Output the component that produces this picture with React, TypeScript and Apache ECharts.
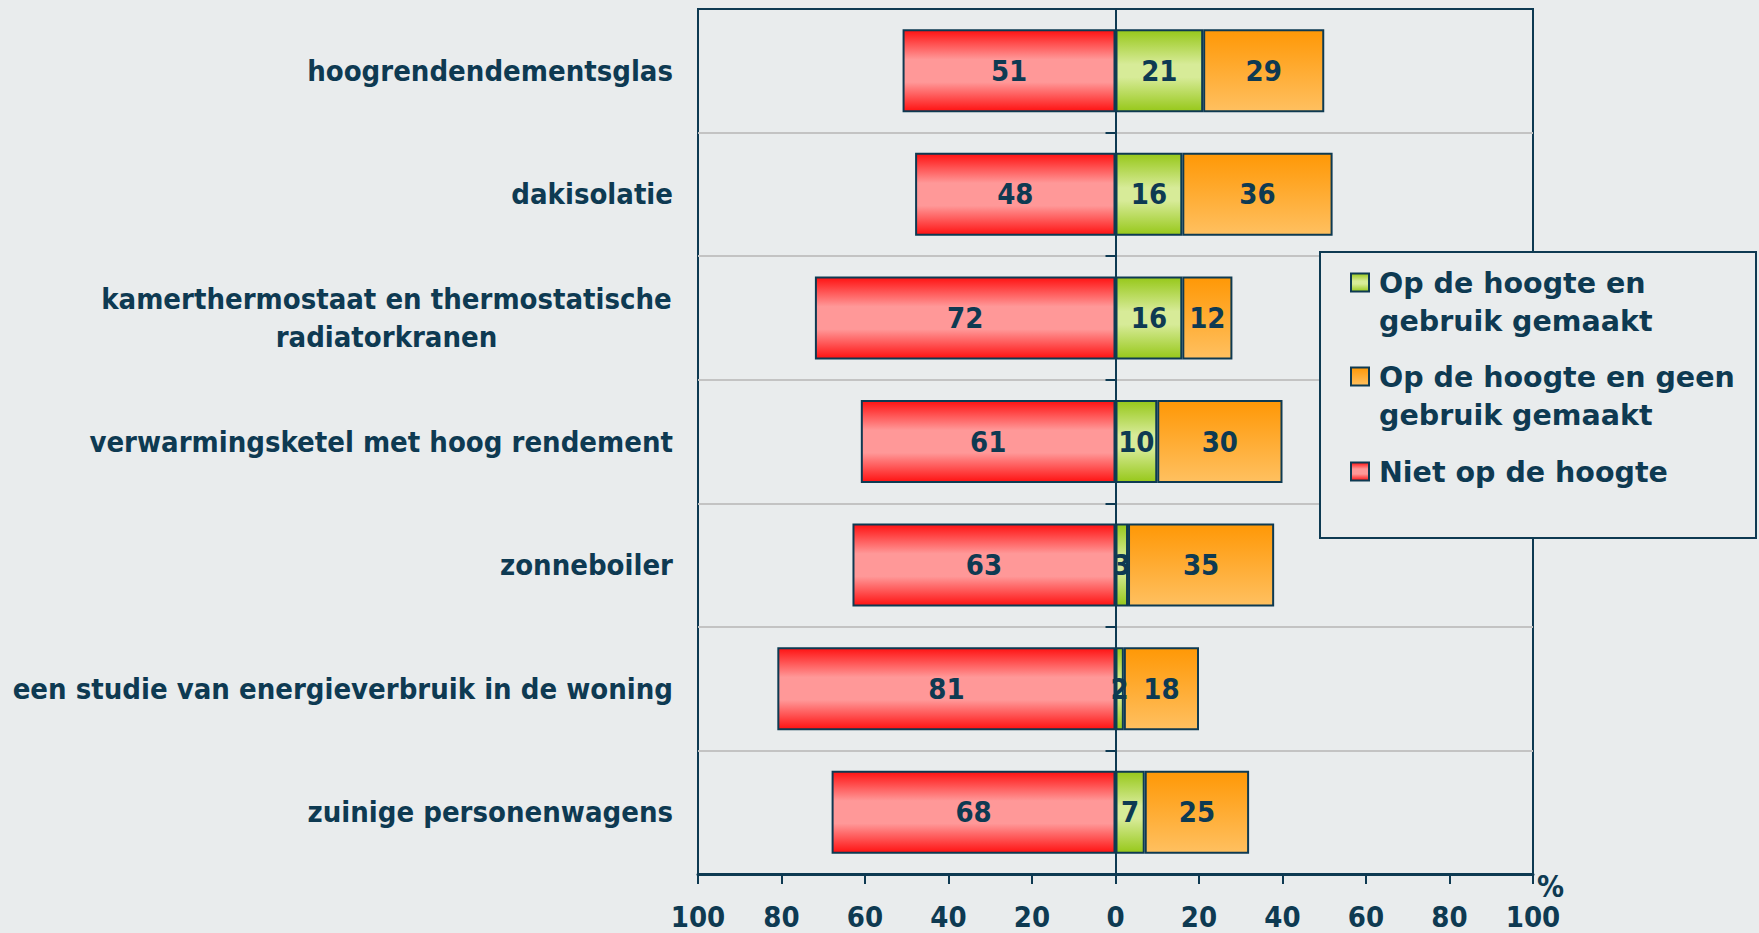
import React, { useEffect, useRef } from "react";
import * as echarts from "echarts";

// Survey categories (top to bottom)
const categories = [
  "hoogrendendementsglas",
  "dakisolatie",
  "kamerthermostaat en thermostatische\nradiatorkranen",
  "verwarmingsketel met hoog rendement",
  "zonneboiler",
  "een studie van energieverbruik in de woning",
  "zuinige personenwagens",
];

const seriesNames = [
  "Op de hoogte en\ngebruik gemaakt",
  "Op de hoogte en geen\ngebruik gemaakt",
  "Niet op de hoogte",
];

// Percentages per category
const usedValues = [21, 16, 16, 10, 3, 2, 7];
const notUsedValues = [29, 36, 12, 30, 35, 18, 25];
const unawareValues = [51, 48, 72, 61, 63, 81, 68];

const axisMin = -100;
const axisMax = 100;
const axisStep = 20;
const unitLabel = "%";

const NAVY = "#0e3a52";
const BG = "#e9eced";
const CONDENSED = '"DejaVu Sans Condensed", "DejaVu Sans", sans-serif';
const WIDE = '"DejaVu Sans", sans-serif';

const greenFill = () =>
  new echarts.graphic.LinearGradient(0, 0, 0, 1, [
    { offset: 0, color: "#97c81a" },
    { offset: 0.42, color: "#d7eb98" },
    { offset: 0.58, color: "#d7eb98" },
    { offset: 1, color: "#97c81a" },
  ]);
const orangeFill = () =>
  new echarts.graphic.LinearGradient(0, 0, 0, 1, [
    { offset: 0, color: "#ff9806" },
    { offset: 1, color: "#ffc060" },
  ]);
const redFill = () =>
  new echarts.graphic.LinearGradient(0, 0, 0, 1, [
    { offset: 0, color: "#ff1212" },
    { offset: 0.36, color: "#ff9898" },
    { offset: 0.64, color: "#ff9898" },
    { offset: 1, color: "#ff1212" },
  ]);

function measure(text: string, font: string): number {
  const ctx = document.createElement("canvas").getContext("2d");
  if (!ctx) return 580;
  ctx.font = font;
  return Math.max(...text.split("\n").map((l) => ctx.measureText(l).width));
}

export default function App() {
  const ref = useRef<HTMLDivElement>(null);

  useEffect(() => {
    if (!ref.current) return;
    const chart = echarts.init(ref.current, undefined, { renderer: "svg" });

    const labelFont = 29;
    const multiWidth =
      Math.ceil(
        measure(categories[2], `bold ${labelFont}px "DejaVu Sans Condensed", "DejaVu Sans"`)
      ) + 2;

    const barLabel = {
      show: true,
      position: "inside" as const,
      color: NAVY,
      fontSize: labelFont,
      fontWeight: "bold" as const,
      fontFamily: CONDENSED,
      formatter: (p: any) => String(Math.abs(p.value)),
    };
    const barBorder = { borderColor: NAVY, borderWidth: 2 };

    const legendFills = [greenFill(), orangeFill(), redFill()];
    const legendX = 1320;
    const legendY = 252;
    const itemCenters = [283, 377, 472];
    const legendGraphics: any[] = [
      {
        type: "rect",
        shape: { x: legendX, y: legendY, width: 436, height: 286 },
        style: { fill: BG, stroke: NAVY, lineWidth: 2 },
        z: 10,
      },
    ];
    seriesNames.forEach((name, i) => {
      legendGraphics.push({
        type: "rect",
        shape: { x: 1351, y: itemCenters[i] - 9.5, width: 18, height: 18 },
        style: { fill: legendFills[i], stroke: NAVY, lineWidth: 2 },
        z: 11,
      });
      legendGraphics.push({
        type: "text",
        x: 1379,
        y: itemCenters[i] - 19,
        style: {
          text: name,
          fill: NAVY,
          font: `bold 28.5px ${WIDE}`,
          verticalAlign: "top",
          align: "left",
          lineHeight: 38,
        },
        z: 11,
      });
    });

    chart.setOption({
      animation: false,
      backgroundColor: BG,
      grid: {
        left: 698,
        right: 226,
        top: 9,
        bottom: 59,
        show: true,
        borderColor: NAVY,
        borderWidth: 2,
        backgroundColor: "transparent",
      },
      xAxis: {
        type: "value",
        min: axisMin,
        max: axisMax,
        interval: axisStep,
        axisLine: { show: true, onZero: false, lineStyle: { color: NAVY, width: 3 } },
        axisTick: { show: true, length: 10, lineStyle: { color: NAVY, width: 2 } },
        splitLine: { show: false },
        axisLabel: {
          color: NAVY,
          fontSize: labelFont,
          fontWeight: "bold",
          fontFamily: CONDENSED,
          margin: 28,
          lineHeight: 29,
          formatter: (v: number) => String(Math.abs(v)),
        },
      },
      yAxis: [
        {
          type: "category",
          inverse: true,
          data: categories,
          axisLine: { show: false, onZero: false },
          axisTick: { show: false },
          splitLine: {
            show: true,
            interval: (index: number) => index !== 0,
            lineStyle: { color: "#c3c3c3", width: 2 },
          },
          axisLabel: {
            color: NAVY,
            fontSize: labelFont,
            fontWeight: "bold",
            fontFamily: CONDENSED,
            margin: 25,
            lineHeight: 38,
            formatter: (v: string) => (v.includes("\n") ? `{c|${v}}` : v),
            rich: {
              c: {
                width: multiWidth,
                align: "center",
                color: NAVY,
                fontSize: labelFont,
                fontWeight: "bold",
                fontFamily: CONDENSED,
                lineHeight: 38,
              },
            },
          },
        },
        {
          type: "category",
          inverse: true,
          data: categories,
          position: "left",
          axisLine: { show: true, onZero: true, lineStyle: { color: NAVY, width: 2 } },
          axisTick: { show: true, length: 10, lineStyle: { color: NAVY, width: 2 } },
          axisLabel: { show: false },
          splitLine: { show: false },
        },
      ],
      series: [
        {
          name: seriesNames[0],
          type: "bar",
          stack: "total",
          yAxisIndex: 0,
          barWidth: 83,
          data: usedValues,
          itemStyle: { color: greenFill(), ...barBorder },
          label: barLabel,
        },
        {
          name: seriesNames[1],
          type: "bar",
          stack: "total",
          yAxisIndex: 0,
          barWidth: 83,
          data: notUsedValues,
          itemStyle: { color: orangeFill(), ...barBorder },
          label: barLabel,
        },
        {
          name: seriesNames[2],
          type: "bar",
          stack: "total",
          yAxisIndex: 0,
          barWidth: 83,
          data: unawareValues.map((v) => -v),
          itemStyle: { color: redFill(), ...barBorder },
          label: barLabel,
        },
      ],
      graphic: [
        ...legendGraphics,
        {
          type: "text",
          x: 1537,
          y: 886,
          style: {
            text: unitLabel,
            fill: NAVY,
            font: `bold 30px ${CONDENSED}`,
            verticalAlign: "middle",
            align: "left",
          },
        },
      ],
    });

    return () => chart.dispose();
  }, []);

  return (
    <div
      ref={ref}
      style={{ position: "absolute", left: 0, top: 0, width: 1759, height: 933 }}
    />
  );
}
